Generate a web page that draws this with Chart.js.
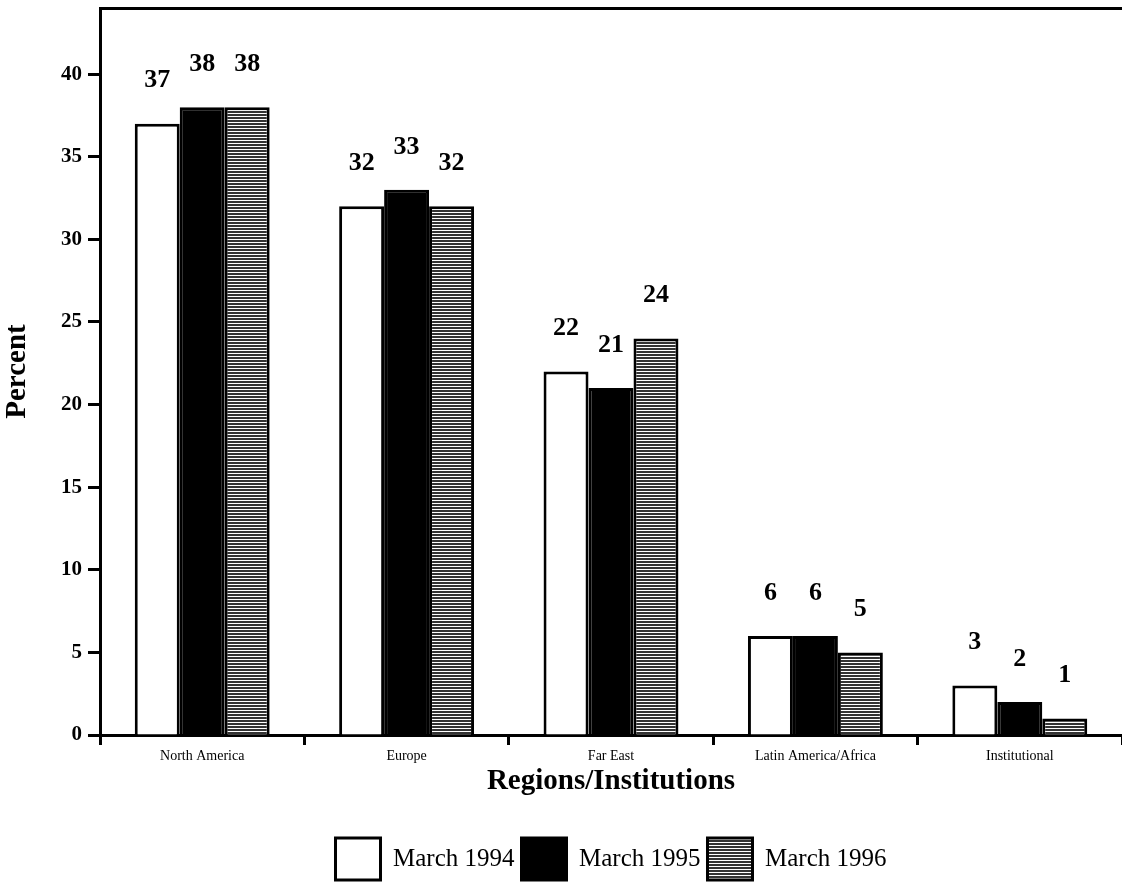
<html>
<head>
  <meta charset="UTF-8">
  <title>Regions/Institutions</title>
  <script src="https://cdn.jsdelivr.net/npm/chart.js"></script>
  <style>
    body { margin: 0; background: #fff; }
    #wrap { width: 1122px; height: 884px; }
  </style>
</head>
<body>
  <div id="wrap"><canvas id="chart" width="1122" height="884"></canvas></div>
  <script>
    // --- Data ---
    const regions = ['North America', 'Europe', 'Far East', 'Latin America/Africa', 'Institutional'];
    const march1994 = [37, 32, 22, 6, 3];
    const march1995 = [38, 33, 21, 6, 2];
    const march1996 = [38, 32, 24, 5, 1];
    const seriesNames = ['March 1994', 'March 1995', 'March 1996'];
    const yTicks = [0, 5, 10, 15, 20, 25, 30, 35, 40];

    const SERIF = '"Liberation Serif", "Times New Roman", serif';

    // horizontal line pattern for the 1996 bars
    function hatch() {
      const c = document.createElement('canvas');
      c.width = 8; c.height = 3;
      const g = c.getContext('2d');
      g.fillStyle = '#fff'; g.fillRect(0, 0, 8, 3);
      g.fillStyle = '#333'; g.fillRect(0, 0, 8, 2);
      return g.createPattern(c, 'repeat');
    }
    const stripes = hatch();

    // value labels above bars
    const valueLabels = {
      id: 'valueLabels',
      afterDatasetsDraw(chart) {
        const ctx = chart.ctx;
        ctx.save();
        ctx.font = 'bold 26px ' + SERIF;
        ctx.fillStyle = '#000';
        ctx.textAlign = 'center';
        ctx.textBaseline = 'middle';
        chart.data.datasets.forEach((ds, i) => {
          chart.getDatasetMeta(i).data.forEach((bar, j) => {
            ctx.fillText(ds.data[j], bar.x, bar.y - 43);
          });
        });
        ctx.restore();
      }
    };

    const barStyle = { borderColor: '#000', borderWidth: 3, borderSkipped: 'bottom',
                       categoryPercentage: 0.66, barPercentage: 1 };

    new Chart(document.getElementById('chart'), {
      type: 'bar',
      data: {
        labels: regions,
        datasets: [
          { label: seriesNames[0], data: march1994, backgroundColor: '#fff', ...barStyle },
          { label: seriesNames[1], data: march1995, backgroundColor: '#000', ...barStyle },
          { label: seriesNames[2], data: march1996, backgroundColor: stripes, ...barStyle }
        ]
      },
      options: {
        responsive: false,
        animation: false,
        layout: { autoPadding: false, padding: { top: 8, right: 0, left: 0, bottom: -6 } },
        plugins: {
          tooltip: { enabled: false },
          legend: {
            position: 'bottom',
            fullSize: false,
            labels: {
              boxWidth: 45, boxHeight: 42, padding: 7,
              color: '#000',
              font: { family: SERIF, size: 25 }
            }
          }
        },
        scales: {
          x: {
            grid: { offset: true, drawOnChartArea: false, color: '#000', tickLength: 10, tickWidth: 3 },
            border: { color: '#000', width: 3 },
            ticks: { color: '#000', font: { family: SERIF, size: 14 }, padding: 3, maxRotation: 0 },
            title: { display: true, text: 'Regions/Institutions', color: '#000',
                     font: { family: SERIF, size: 29, weight: 'bold' }, padding: { top: -2, bottom: 32 } },
            afterFit: s => { s.height = 96; }
          },
          x2: {
            position: 'top',
            grid: { display: false },
            border: { color: '#000', width: 3 },
            ticks: { display: false },
            afterFit: s => { s.height = 0; }
          },
          y: {
            min: 0, max: 44,
            afterBuildTicks: s => { s.ticks = yTicks.map(v => ({ value: v })); },
            grid: { drawOnChartArea: false, color: '#000', tickLength: 12, tickWidth: 3 },
            border: { color: '#000', width: 3 },
            ticks: { color: '#000', font: { family: SERIF, size: 21, weight: 'bold', lineHeight: 0.2 }, padding: 6 },
            title: { display: true, text: 'Percent', color: '#000',
                     font: { family: SERIF, size: 29, weight: 'bold' }, padding: { top: 0, bottom: 18 } },
            afterFit: s => { s.width = 100; }
          }
        }
      },
      plugins: [valueLabels]
    });
  </script>
</body>
</html>
